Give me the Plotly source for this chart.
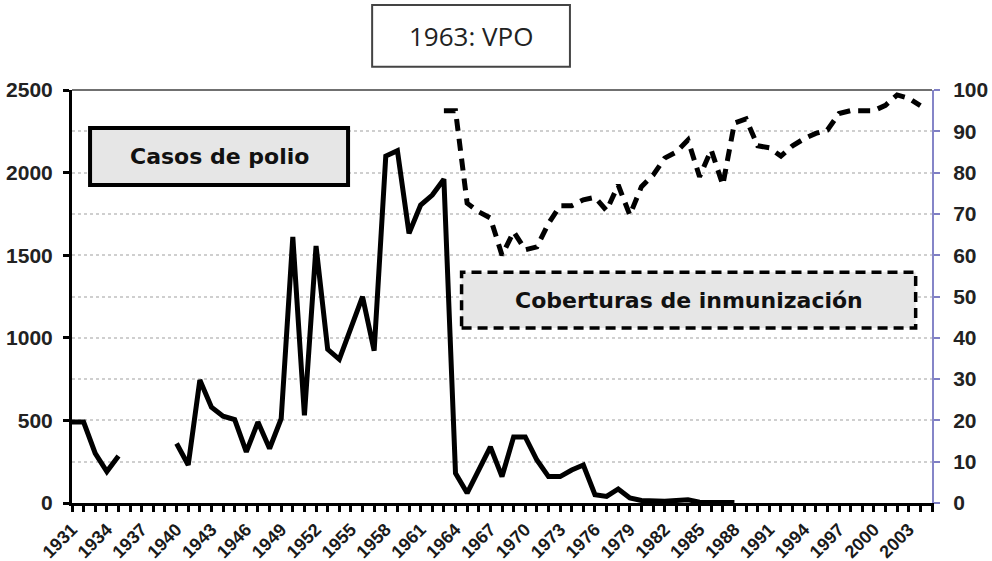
import plotly.graph_objects as go

years = list(range(1931, 2006))

# Polio cases (left axis); None = no data
polio_cases = [490, 490, 300, 190, 285, None, None, None, None,
               360, 230, 744, 580, 525, 505, 310, 490, 330, 510,
               1610, 530, 1556, 930, 870, 1060, 1249, 922, 2100, 2133,
               1632, 1804, 1864, 1960, 180, 60, 200, 340, 160, 400,
               400, 260, 160, 160, 200, 230, 50, 40, 85, 30,
               15, 10, 10, 15, 20, 5, 5, 5, 3] + [None] * 17

# Immunization coverage (right axis, %)
coverage = [None] * 32 + [95, 95, 72.6, 70.5, 69, 60, 65.7, 61.3, 62,
            67.7, 72, 72, 73.4, 74, 70.8, 77, 69.7, 76.6, 79.4, 83.5,
            85, 87.9, 79, 85.5, 77, 92, 93, 86.5, 86, 84, 86.5, 88.2,
            89.5, 90.3, 94.3, 95, 95, 95, 96.3, 98.8, 98, 96.2, None]

tick_years = [y for y in years]
tick_labels = [str(y) if (y - 1931) % 3 == 0 and y <= 2003 else "" for y in years]

left_ticks = [0, 500, 1000, 1500, 2000, 2500]
right_ticks = list(range(0, 101, 10))

fig = go.Figure()
fig.add_trace(go.Scatter(
    x=years, y=polio_cases, mode="lines", name="Casos de polio",
    line=dict(color="black", width=5), connectgaps=False))
fig.add_trace(go.Scatter(
    x=years, y=coverage, mode="lines", name="Coberturas de inmunización",
    yaxis="y2", line=dict(color="black", width=5, dash="12px,8px"),
    connectgaps=False))

fig.update_layout(
    width=992, height=561,
    margin=dict(l=72, r=60, t=90, b=58, autoexpand=False),
    paper_bgcolor="white", plot_bgcolor="white",
    showlegend=False,
    font=dict(family="Liberation Sans, Arial", color="#1a1a1a"),
    xaxis=dict(
        range=[1931, 2005], tickvals=tick_years, ticktext=tick_labels,
        tickangle=-45, ticks="outside", ticklen=6, tickwidth=3,
        tickcolor="black", showline=True, linecolor="black", linewidth=3,
        showgrid=False, zeroline=False, automargin=False,
        tickfont=dict(size=18, weight="bold", color="#1a1a1a")),
    yaxis=dict(
        range=[0, 2500], tickvals=left_ticks, ticks="outside", ticklen=6,
        tickwidth=3, tickcolor="black", showline=True, linecolor="black",
        linewidth=3, showgrid=False, zeroline=False, automargin=False,
        ticklabelstandoff=6,
        tickfont=dict(size=21, weight="bold", color="#222")),
    yaxis2=dict(
        range=[0, 100], tickvals=right_ticks, overlaying="y", side="right",
        ticks="outside", ticklen=6, tickwidth=2, tickcolor="#7f7fc4",
        showline=True, linecolor="#8585c8", linewidth=2, automargin=False,
        ticklabelstandoff=9,
        showgrid=True, gridcolor="#cfcfcf", griddash="dot", gridwidth=2,
        zeroline=False, tickfont=dict(size=21, weight="bold", color="#222")),
    shapes=[
        dict(type="line", xref="paper", yref="paper", x0=0, x1=1, y0=1, y1=1,
             line=dict(color="#707070", width=2)),
        dict(type="rect", xref="paper", yref="paper",
             x0=0.021, x1=0.321, y0=0.770, y1=0.908,
             fillcolor="#e6e6e6", line=dict(color="black", width=4)),
        dict(type="rect", xref="paper", yref="paper",
             x0=0.453, x1=0.981, y0=0.424, y1=0.559,
             fillcolor="#e6e6e6", line=dict(color="black", width=3.5, dash="10px,6px")),
        dict(type="rect", xref="paper", yref="paper",
             x0=0.349, x1=0.579, y0=1.056, y1=1.206,
             fillcolor="white", line=dict(color="#444", width=2)),
    ],
    annotations=[
        dict(xref="paper", yref="paper", x=0.171, y=0.839, xanchor="center",
             yanchor="middle", text="Casos de polio", showarrow=False,
             font=dict(family="DejaVu Sans", size=22, weight="bold", color="#111")),
        dict(xref="paper", yref="paper", x=0.717, y=0.4915, xanchor="center",
             yanchor="middle", text="Coberturas de inmunización", showarrow=False,
             font=dict(family="DejaVu Sans", size=22, weight="bold", color="#111")),
        dict(xref="paper", yref="paper", x=0.464, y=1.131, xanchor="center",
             yanchor="middle", text="1963: VPO", showarrow=False,
             font=dict(family="Open Sans, Liberation Sans", size=26, color="#222")),
    ],
)

fig.write_html("out.html", config={"displayModeBar": False},
               post_script="document.body.style.margin='0';"
                           "document.body.style.overflow='hidden';")
